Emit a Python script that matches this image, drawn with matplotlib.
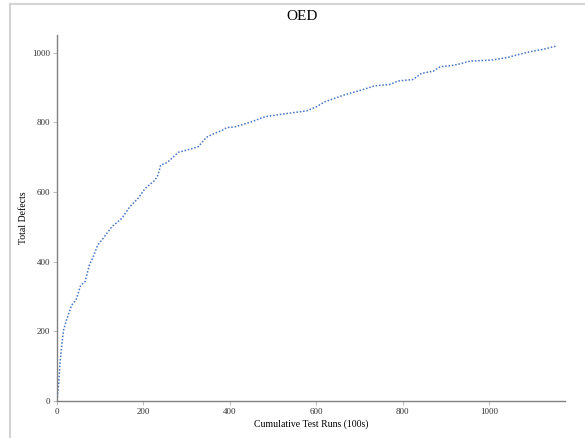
import matplotlib.pyplot as plt
from matplotlib.lines import Line2D

# cumulative test runs (100s) vs total defects found
runs = [0, 4, 7, 11, 15, 22, 34, 44, 55, 65, 75, 84, 94, 107, 127, 150, 169, 188,
        204, 227, 234, 240, 254, 262, 281, 300, 327, 346, 364, 381, 393, 412, 447,
        481, 524, 578, 601, 620, 663, 705, 736, 771, 790, 824, 844, 871, 887, 913,
        933, 956, 1006, 1041, 1072, 1095, 1126, 1155]
defects = [0, 50, 108, 160, 202, 232, 275, 289, 332, 342, 390, 414, 447, 467, 500,
           524, 558, 582, 610, 634, 649, 677, 684, 692, 714, 720, 730, 757, 768,
           776, 785, 787, 800, 816, 824, 833, 845, 859, 878, 893, 905, 909, 919,
           923, 941, 947, 960, 963, 968, 976, 979, 986, 996, 1003, 1010, 1019]

plt.rcParams['font.family'] = ['Liberation Serif', 'DejaVu Serif']

fig = plt.figure(figsize=(5.85, 4.38), dpi=100)
ax = fig.add_axes([57 / 585, 1 - 400.7 / 438, 508 / 585, 365.7 / 438])

ax.plot(runs, defects, linestyle=(0, (1, 1.2)), color='#4472c4', linewidth=1.1)

ax.set_xlim(0, 1176)
ax.set_ylim(0, 1051)
ax.set_xticks([0, 200, 400, 600, 800, 1000])
ax.set_yticks([0, 200, 400, 600, 800, 1000])

for side in ['top', 'right']:
    ax.spines[side].set_visible(False)
for side in ['left', 'bottom']:
    ax.spines[side].set_color('#808080')
    ax.spines[side].set_linewidth(1.0)
ax.tick_params(labelsize=6.5, colors='#333333', length=3, width=0.6, pad=2)
ax.tick_params(color='#b0b0b0')

ax.set_xlabel('Cumulative Test Runs (100s)', fontsize=7, labelpad=3)
ax.set_ylabel('Total Defects', fontsize=7, labelpad=3)
fig.text(302 / 585, 1 - 17 / 438, 'OED', ha='center', va='center', fontsize=11)

# light frame along the top and left edges
fig.add_artist(Line2D([10 / 585, 1], [1 - 4 / 438] * 2, transform=fig.transFigure,
                      color='#d4d4d4', linewidth=1.5))
fig.add_artist(Line2D([10 / 585] * 2, [0, 1 - 4 / 438], transform=fig.transFigure,
                      color='#d4d4d4', linewidth=1.5))

fig.savefig('out.png', dpi=100)
